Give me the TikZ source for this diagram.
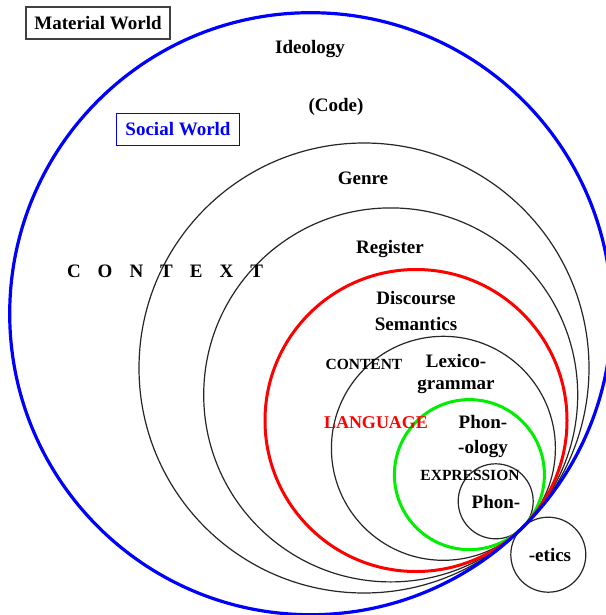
\documentclass[tikz,border=0pt]{standalone}
\usepackage{fontspec}
\setmainfont{Liberation Serif}
\begin{document}
\begin{tikzpicture}[x=1pt,y=-1pt,
  lbl/.style={font=\fontsize{19}{24}\selectfont\bfseries, inner sep=0pt, anchor=base},
  smalllbl/.style={font=\fontsize{15.5}{18}\selectfont\bfseries, inner sep=0pt, anchor=base},
  ring/.style={draw=black!85, line width=1.2pt},
  bluering/.style={draw=blue, line width=3.2pt},
  redring/.style={draw=red, line width=3pt},
  greenring/.style={draw={rgb,255:red,0;green,238;blue,0}, line width=3pt},
  framebox/.style={draw=black!75, line width=1.1pt, minimum width=144pt, minimum height=32pt, inner sep=0pt},
  blueframe/.style={draw=blue, line width=0.9pt, text=blue, minimum width=123pt, minimum height=32pt, inner sep=0pt}]
\useasboundingbox (0,0) rectangle (605,615);
\fill[white] (0,0) rectangle (605,615);
\coordinate (T) at (522,528);
% nested circles, all tangent at T
\draw[ring] (364,368) circle[radius=225pt];
\draw[ring] (390.7,394.9) circle[radius=187pt];
\draw[ring] (443.4,448.3) circle[radius=112pt];
\draw[ring] (495.7,501.3) circle[radius=37.5pt];
\draw[ring] (548.3,554.7) circle[radius=37.5pt];
\draw[greenring] (469.4,474.6) circle[radius=75pt];
\draw[redring] (416,420.5) circle[radius=151pt];
\draw[bluering] (310.7,313.7) circle[radius=301pt];
% labels
\node[framebox, font=\fontsize{19}{24}\selectfont\bfseries] (mat) at (98,23) {Material World};
\node[blueframe, font=\fontsize{19}{24}\selectfont\bfseries] (soc) at (178,129) {Social World};
\node[lbl] (ideo) at (310,54) {Ideology};
\node[lbl] (code) at (336,112) {(Code)};
\node[lbl] (genre) at (363,184) {Genre};
\node[lbl] (reg) at (390,253) {Register};
\node[lbl] (ctx) at (165,277) {C\hspace{17pt}O\hspace{17pt}N\hspace{17pt}T\hspace{17pt}E\hspace{17pt}X\hspace{17pt}T};
\node[lbl] (disc1) at (416,304) {Discourse};
\node[lbl] (disc2) at (416,330) {Semantics};
\node[smalllbl] (cont) at (364,369) {CONTENT};
\node[lbl] (lex1) at (456,367) {Lexico-};
\node[lbl] (lex2) at (456,389) {grammar};
\node[lbl, text=red, font=\fontsize{18}{22}\selectfont\bfseries] (lang) at (376,428) {LANGUAGE};
\node[lbl] (pho1) at (483,428) {Phon-};
\node[lbl] (pho2) at (483,453) {-ology};
\node[smalllbl] (expr) at (470,480) {EXPRESSION};
\node[lbl] (phon) at (496,508) {Phon-};
\node[lbl] (etics) at (550,561) {-etics};
\end{tikzpicture}
\end{document}
